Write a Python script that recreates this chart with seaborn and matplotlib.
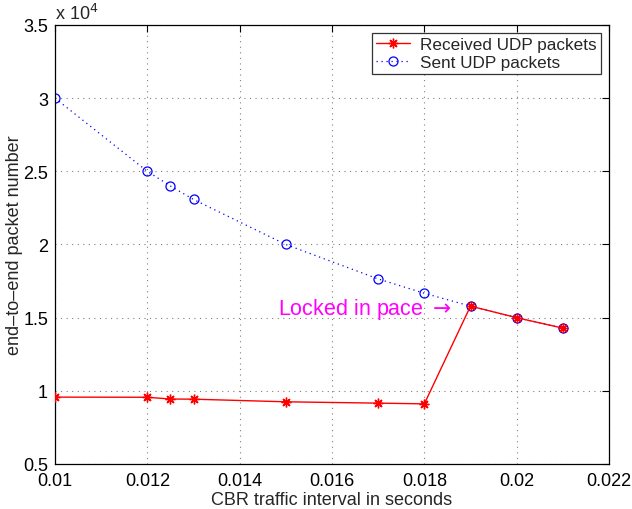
import matplotlib
matplotlib.use("Agg")
import matplotlib.pyplot as plt
from matplotlib.ticker import FuncFormatter
import pandas as pd
import seaborn as sns

# CBR traffic interval (s) and end-to-end packet counts
interval = [0.010, 0.012, 0.0125, 0.013, 0.015, 0.017, 0.018, 0.019, 0.020, 0.021]
received = [9570, 9560, 9440, 9430, 9250, 9160, 9110, 15789, 15000, 14286]
sent = [30000, 25000, 24000, 23077, 20000, 17647, 16667, 15789, 15000, 14286]

x_ticks = [0.01, 0.012, 0.014, 0.016, 0.018, 0.02, 0.022]
y_ticks = [5000, 10000, 15000, 20000, 25000, 30000, 35000]

df = pd.DataFrame({"interval": interval, "received": received, "sent": sent})

sns.set_style("white")
plt.rcParams["font.family"] = ["Liberation Sans", "DejaVu Sans"]

fig = plt.figure(figsize=(6.32, 5.10), dpi=100)
ax = fig.add_axes([55 / 632, 1 - 465 / 510, (609 - 55) / 632, (465 - 26) / 510])

sns.lineplot(data=df, x="interval", y="received", ax=ax, color="#ff0000",
             linewidth=1.0, marker=(8, 2, 0), markersize=7,
             markeredgecolor="#ff0000", markerfacecolor="#ff0000",
             markeredgewidth=1.0, label="Received UDP packets", zorder=3)
sns.lineplot(data=df, x="interval", y="sent", ax=ax, color="#0000ff",
             linewidth=0.9, linestyle=(0, (1, 3)), marker="o", markersize=6.5,
             markerfacecolor="none", markeredgecolor="#0000ff",
             markeredgewidth=0.9, label="Sent UDP packets", zorder=2)

ax.set_xlim(0.01, 0.022)
ax.set_ylim(5000, 35000)
ax.set_xticks(x_ticks)
ax.set_yticks(y_ticks)
ax.xaxis.set_major_formatter(FuncFormatter(lambda v, p: f"{v:g}"))
ax.yaxis.set_major_formatter(FuncFormatter(lambda v, p: f"{v / 1e4:g}"))

ax.grid(True, color="#808080", linestyle=(0, (1, 4)), linewidth=0.8)
ax.tick_params(axis="both", which="both", direction="in", length=5,
               width=0.8, top=True, right=True, labelsize=13,
               color="black", labelcolor="black")
ax.tick_params(axis="x", pad=6)
ax.tick_params(axis="y", pad=5)
for s in ax.spines.values():
    s.set_visible(True)
    s.set_color("black")
    s.set_linewidth(0.9)

ax.set_xlabel("CBR traffic interval in seconds", fontsize=13, labelpad=1)
ax.set_ylabel("end\u2013to\u2013end packet number", fontsize=13, labelpad=0)

ax.text(0.0, 1.005, "x 10$^{4}$", transform=ax.transAxes, fontsize=13,
        ha="left", va="bottom")

ax.text(0.0186, 15650, "Locked in pace $\\rightarrow$", color="#ff00ff",
        fontsize=15.5, ha="right", va="center")

leg = ax.legend(loc="upper right", fontsize=12.3, frameon=True, fancybox=False,
                borderpad=0.25, handlelength=2.0, handletextpad=0.6,
                labelspacing=0.15, borderaxespad=0.45)
leg.get_frame().set_edgecolor("black")
leg.get_frame().set_linewidth(0.9)

fig.savefig("out.png", dpi=100, facecolor="white")
